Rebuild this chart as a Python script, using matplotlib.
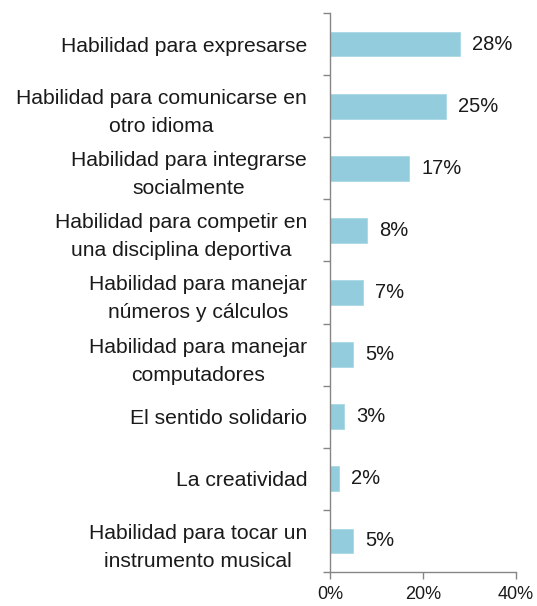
import matplotlib.pyplot as plt
from matplotlib.ticker import FuncFormatter

categories = [
    "Habilidad para expresarse",
    "Habilidad para comunicarse en\notro idioma",
    "Habilidad para integrarse\nsocialmente",
    "Habilidad para competir en\nuna disciplina deportiva",
    "Habilidad para manejar\nnúmeros y cálculos",
    "Habilidad para manejar\ncomputadores",
    "El sentido solidario",
    "La creatividad",
    "Habilidad para tocar un\ninstrumento musical",
]
values = [28, 25, 17, 8, 7, 5, 3, 2, 5]
labels = ["28%", "25%", "17%", "8%", "7%", "5%", "3%", "2%", "5%"]

plt.rcParams['font.family'] = ['Liberation Sans', 'DejaVu Sans']

fig = plt.figure(figsize=(5.37, 6.06), dpi=100)
ax = fig.add_axes([330 / 537, 1 - 572 / 606, 186 / 537, 559 / 606])

pos = list(range(len(categories)))
ax.barh(pos, values, height=0.4, color='#93CDDD', edgecolor='#A9D8E5', linewidth=0.6)
for p, v, t in zip(pos, values, labels):
    ax.text(v + 2.6, p, t, va='center', ha='left', fontsize=14.5, color='#1a1a1a')

ax.set_ylim(len(categories) - 0.5, -0.5)
ax.set_xlim(0, 40)
ax.set_xticks([0, 20, 40])
ax.xaxis.set_major_formatter(FuncFormatter(lambda x, _: f"{x:.0f}%"))

# category labels, ticks at the boundaries like Excel
ax.set_yticks(pos)
ax.set_yticklabels(categories, fontsize=15.2, ha='right', multialignment='center',
                   linespacing=1.6, color='#1a1a1a')
ax.tick_params(axis='y', length=0, pad=16.5)
ax.set_yticks([p - 0.5 for p in range(len(categories) + 1)], minor=True)
ax.tick_params(axis='y', which='minor', length=5, color='#868686', width=1)
ax.tick_params(axis='x', length=5, color='#868686', width=1, labelsize=13, pad=5,
               labelcolor='#1a1a1a')

for s in ['top', 'right']:
    ax.spines[s].set_visible(False)
for s in ['left', 'bottom']:
    ax.spines[s].set_color('#868686')
    ax.spines[s].set_linewidth(1)

fig.savefig('out.png', dpi=100)
